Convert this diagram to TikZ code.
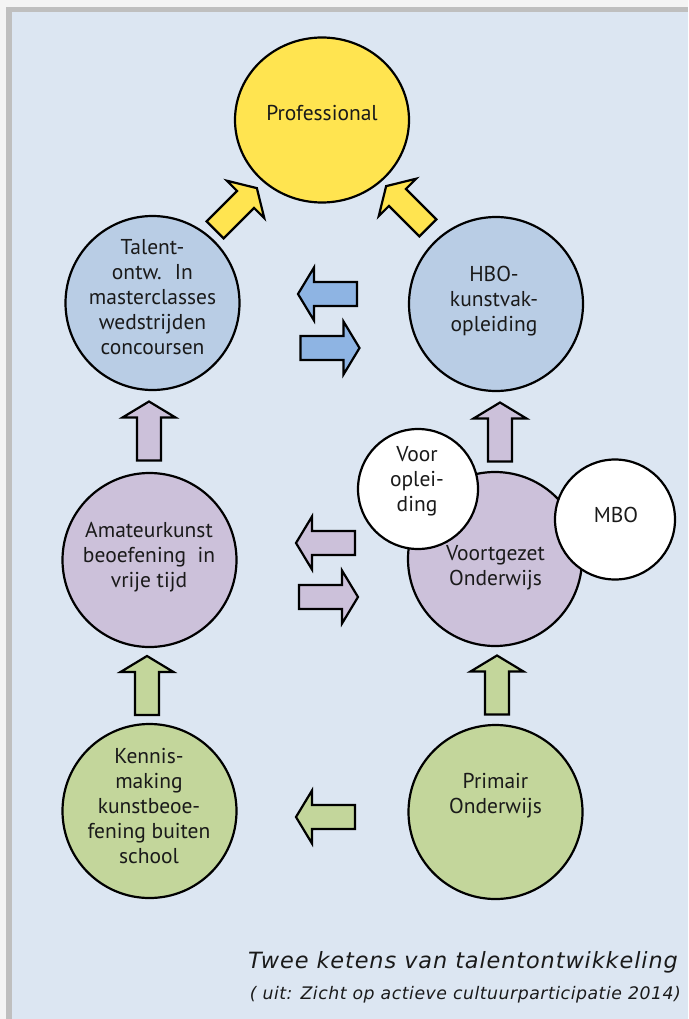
\documentclass[tikz,border=0pt]{standalone}
\usepackage{fontspec}
\setmainfont{PT Sans}
\newfontfamily\capfont{DejaVu Sans}
\usetikzlibrary{shapes.geometric}
\definecolor{bgblue}{HTML}{DCE6F2}
\definecolor{framegray}{HTML}{BFBFBF}
\definecolor{pagewhite}{HTML}{F4F4F4}
\definecolor{yel}{HTML}{FFE450}
\definecolor{blu}{HTML}{B9CDE5}
\definecolor{bluarr}{HTML}{8EB4E3}
\definecolor{pur}{HTML}{CCC1DA}
\definecolor{grn}{HTML}{C3D69B}
\definecolor{ink}{HTML}{1A1A1A}
\tikzset{
  bigcirc/.style={circle, draw=black, line width=2.2pt, inner sep=0pt, minimum size=174pt, fill=#1},
  smallcirc/.style={circle, draw=black, line width=2.2pt, inner sep=0pt, minimum size=120pt, fill=white},
  txt/.style={align=center, text=ink, inner sep=0pt, font=\fontsize{21.5}{25}\selectfont},
  captxt/.style={anchor=east, inner sep=0pt, text=ink},
  blockarrow/.pic={
    \filldraw[fill=#1, draw=black, line width=2.2pt, line join=miter]
      (-29.5,-12) -- (13.5,-12) -- (13.5,-26.5) -- (29.5,0) -- (13.5,26.5) -- (13.5,12) -- (-29.5,12) -- cycle;
  }
}
\begin{document}
\begin{tikzpicture}[x=1pt,y=-1pt]
\useasboundingbox (0,0) rectangle (688,1019);
\fill[pagewhite] (0,0) rectangle (688,1019);
\fill[framegray] (6,7) rectangle (688,1019);
\fill[bgblue] (12,12) rectangle (688,1019);

% circles
\node[ellipse, draw=black, line width=2.2pt, inner sep=0pt, minimum width=174pt, minimum height=165pt, fill=yel] (prof) at (322,120) {};
\node[bigcirc=blu] (talent) at (152.5,303) {};
\node[bigcirc=blu] (hbo) at (496,304) {};
\node[bigcirc=pur] (amateur) at (149.5,560) {};
\node[bigcirc=pur] (vo) at (495,559) {};
\node[smallcirc] (voor) at (418,489) {};
\node[smallcirc] (mbo) at (615,519.5) {};
\node[bigcirc=grn] (kennis) at (149.5,811) {};
\node[bigcirc=grn] (primair) at (495.5,812) {};

% texts
\node[txt] (prof-t) at (322,113) {Professional};
\node[txt] (talent-t) at (152.5,297.5) {Talent-\\ontw.~ In\\masterclasses\\wedstrijden\\concoursen};
\node[txt] (hbo-t) at (494,301.5) {HBO-\\kunstvak-\\opleiding};
\node[txt] (amateur-t) at (149,557.5) {Amateurkunst\\beoefening~ in\\vrije tijd};
\node[txt] (vo-t) at (495.5,568) {Voortgezet\\Onderwijs};
\node[txt] (voor-t) at (417,481) {Voor\\oplei-\\ding};
\node[txt] (mbo-t) at (616,515) {MBO};
\node[txt] (kennis-t) at (149,806.5) {Kennis-\\making\\kunstbeoe-\\fening buiten\\school};
\node[txt] (primair-t) at (495.5,796) {Primair\\Onderwijs};

% block arrows
\pic (ay1) [rotate=45] at (236,209) {blockarrow=yel};
\pic (ay2) [rotate=135] at (407,207) {blockarrow=yel};
\pic (ab1) [rotate=180] at (327.5,294) {blockarrow=bluarr};
\pic (ab2) at (330,348) {blockarrow=bluarr};
\pic (ap1) [rotate=180] at (325.5,543) {blockarrow=pur};
\pic (ap2) at (328.5,597) {blockarrow=pur};
\pic (ag1) [rotate=180] at (325.5,817) {blockarrow=grn};
\pic (apu1) [rotate=90] at (149,431) {blockarrow=pur};
\pic (apu2) [rotate=90] at (500,432) {blockarrow=pur};
\pic (agu1) [rotate=90] at (147,685.5) {blockarrow=grn};
\pic (agu2) [rotate=90] at (497,685) {blockarrow=grn};

% caption
\node[captxt, font=\capfont\fontsize{22.4}{26}\selectfont\itshape\addfontfeatures{LetterSpace=4}] (cap1) at (678,962) {Twee ketens van talentontwikkeling};
\node[captxt, font=\capfont\fontsize{17.3}{20}\selectfont\itshape\addfontfeatures{LetterSpace=3}] (cap2) at (681,995) {( uit: Zicht op actieve cultuurparticipatie 2014)};
\end{tikzpicture}
\end{document}
